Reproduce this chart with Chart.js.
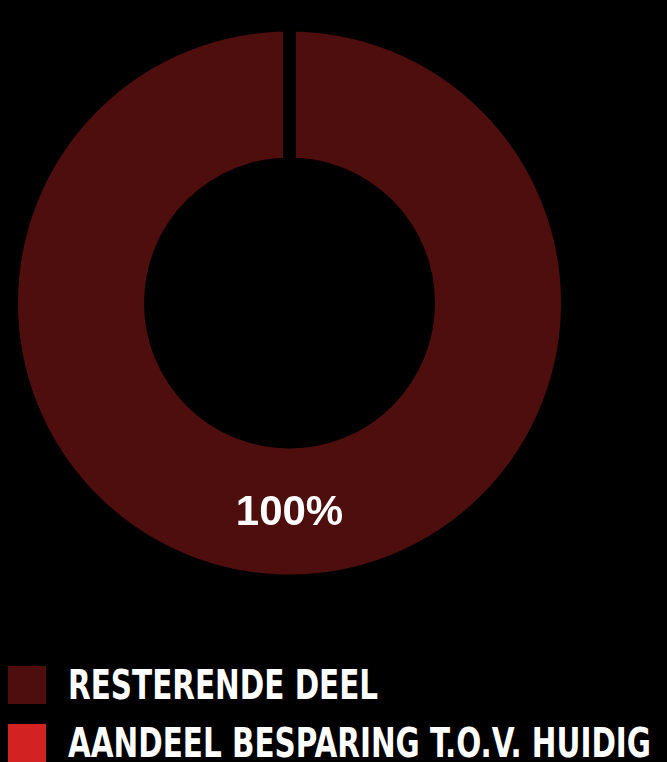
<!DOCTYPE html>
<html>
<head>
<meta charset="utf-8">
<script src="https://cdn.jsdelivr.net/npm/chart.js@4.4.1/dist/chart.umd.min.js"></script>
<style>
    html, body { margin: 0; padding: 0; background: #000; }
    #wrap { position: relative; width: 667px; height: 610px; }
    #legend { position: absolute; left: 8px; top: 666px; margin: 0; padding: 0; list-style: none; }
    #legend li { display: flex; align-items: center; height: 38px; margin-bottom: 20px; }
    #legend .box { width: 38px; height: 38px; margin-right: 22px; flex: none; }
    #legend .txt { display: inline-block; color: #fff; font: bold 40px "DejaVu Sans Condensed", "DejaVu Sans", sans-serif; line-height: 38px; white-space: nowrap; transform-origin: left center; }
</style>
</head>
<body>
<div id="wrap"><canvas id="donut"></canvas></div>
<ul id="legend"></ul>
<script>
// gegevens
const labels = ['RESTERENDE DEEL', 'AANDEEL BESPARING T.O.V. HUIDIG'];
const values = [100, 0];
const colors = ['#4e0e0e', '#d22222'];

// percentage label in het midden van de boog
const percentLabels = {
    id: 'percentLabels',
    afterDatasetsDraw(chart) {
        const ctx = chart.ctx;
        const meta = chart.getDatasetMeta(0);
        const total = values.reduce((a, b) => a + b, 0);
        ctx.save();
        ctx.fillStyle = '#fff';
        ctx.font = 'bold 42px "Liberation Sans", Arial, sans-serif';
        ctx.textAlign = 'center';
        ctx.textBaseline = 'middle';
        meta.data.forEach((arc, i) => {
            if (!values[i]) return;
            const pos = arc.tooltipPosition();
            ctx.fillText(Math.round(values[i] / total * 100) + '%', pos.x, pos.y + 2);
        });
        ctx.restore();
    }
};

const ctx = document.getElementById('donut').getContext('2d');
new Chart(ctx, {
    type: 'doughnut',
    data: {
        labels: labels,
        datasets: [{
            data: values,
            backgroundColor: colors,
            borderColor: '#000',
            borderWidth: 13
        }]
    },
    options: {
        responsive: true,
        maintainAspectRatio: false,
        animation: false,
        cutout: '50%',
        layout: {
            padding: { left: 5, right: 93, top: 18, bottom: 22 }
        },
        plugins: {
            legend: { display: false },
            tooltip: { enabled: false }
        }
    },
    plugins: [percentLabels]
});

// legenda (smalle letter nabootsen met horizontale schaal)
const legend = document.getElementById('legend');
labels.forEach((lab, i) => {
    const li = document.createElement('li');
    li.innerHTML = '<span class="box" style="background:' + colors[i] + '"></span><span class="txt">' + lab + '</span>';
    legend.appendChild(li);
});
const spans = legend.querySelectorAll('.txt');
const sx = 583 / spans[spans.length - 1].offsetWidth;
spans.forEach(s => { s.style.transform = 'scaleX(' + sx + ')'; });
</script>
</body>
</html>
